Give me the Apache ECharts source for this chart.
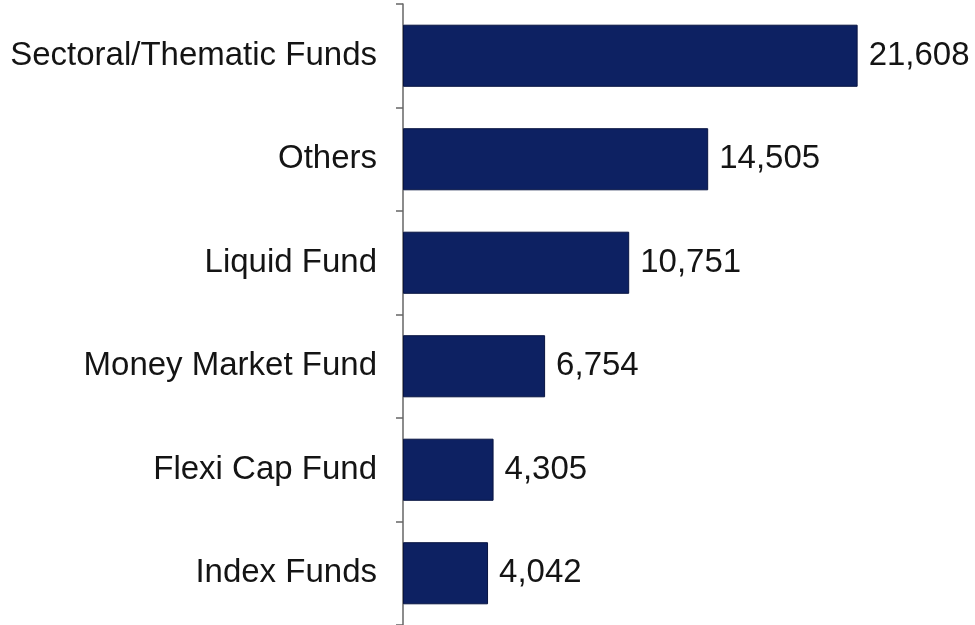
<!DOCTYPE html>
<html>
<head>
<meta charset="utf-8">
<script src="https://cdn.jsdelivr.net/npm/echarts@6/dist/echarts.min.js"></script>
<style>
  html, body { margin: 0; padding: 0; background: #ffffff; }
  #chart { width: 975px; height: 625px; }
</style>
</head>
<body>
<div id="chart"></div>
<script>
// Fund categories (top to bottom as displayed)
const categories = [
  'Sectoral/Thematic Funds',
  'Others',
  'Liquid Fund',
  'Money Market Fund',
  'Flexi Cap Fund',
  'Index Funds'
];
// Values per category
const values = [21608, 14505, 10751, 6754, 4305, 4042];

const chart = echarts.init(document.getElementById('chart'));

chart.setOption({
  animation: false,
  backgroundColor: '#ffffff',
  grid: { left: 403, right: 46, top: 4, bottom: -2, containLabel: false },
  xAxis: {
    type: 'value',
    min: 0,
    max: 25000,
    show: false
  },
  yAxis: {
    type: 'category',
    data: categories,
    inverse: true,
    axisLine: { show: true, lineStyle: { color: '#666666', width: 1.5 } },
    axisTick: { show: true, length: 7, inside: false, alignWithLabel: false, lineStyle: { color: '#666666', width: 1.5 } },
    axisLabel: {
      margin: 26,
      color: '#141414',
      fontFamily: 'Liberation Sans, Arial, sans-serif',
      fontSize: 33
    },
    splitLine: { show: false }
  },
  series: [{
    type: 'bar',
    data: values,
    barCategoryGap: '40%',
    itemStyle: { color: '#0d2162', borderColor: '#081442', borderWidth: 1 },
    label: {
      show: true,
      position: 'right',
      distance: 11,
      color: '#141414',
      fontFamily: 'Liberation Sans, Arial, sans-serif',
      fontSize: 33,
      formatter: p => p.value.toLocaleString('en-US')
    }
  }]
});
</script>
</body>
</html>
